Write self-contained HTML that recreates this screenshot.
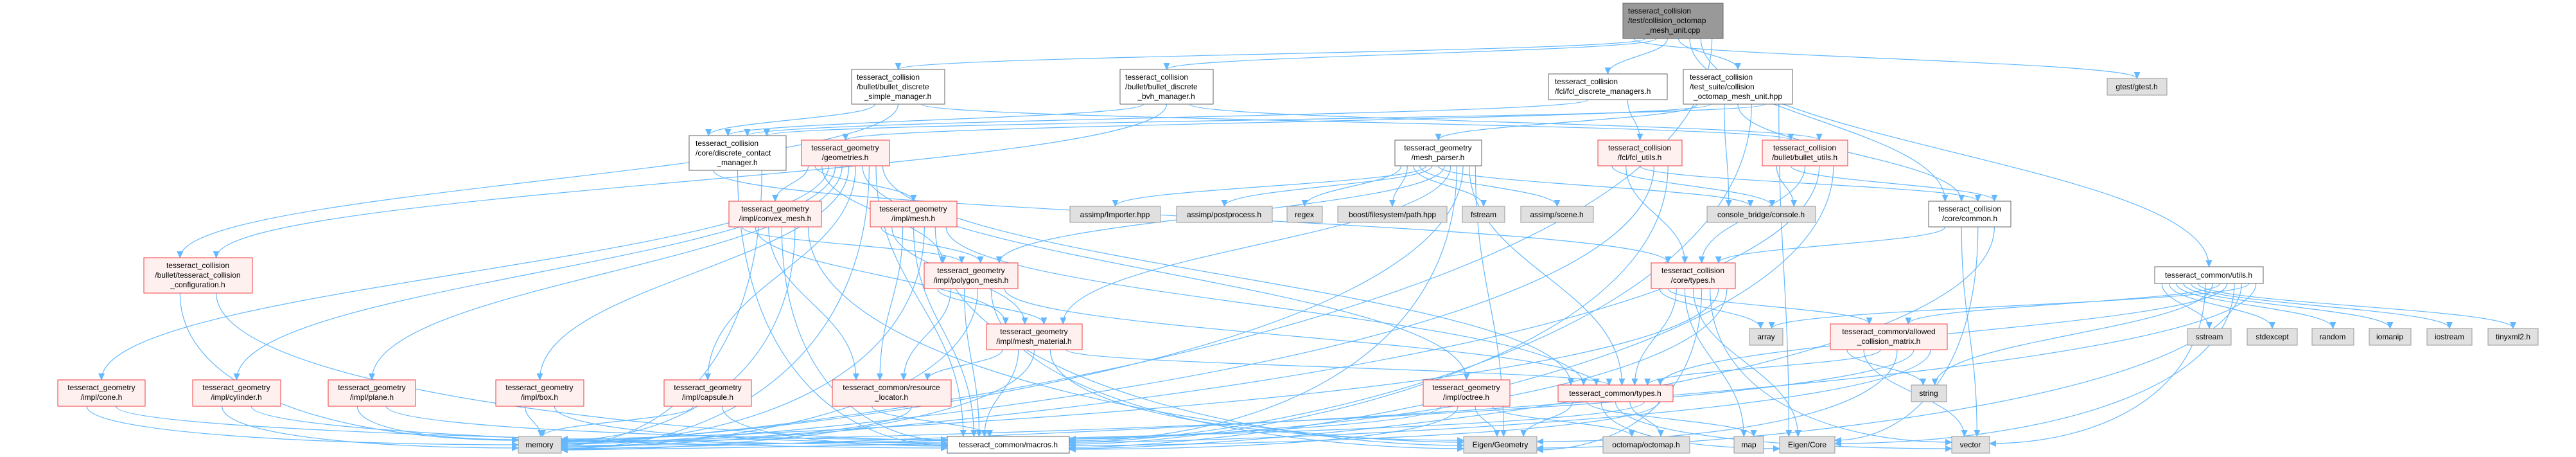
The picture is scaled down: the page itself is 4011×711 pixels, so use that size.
<!DOCTYPE html>
<html><head><meta charset="utf-8"><style>
html,body{margin:0;padding:0;background:#fff;}
svg{display:block;}
text{font-family:"Liberation Sans",Arial,sans-serif;font-size:12px;fill:#000;}
</style></head><body>
<svg id="g" width="4011" height="711" viewBox="0 0 4011 711" xmlns="http://www.w3.org/2000/svg">
<defs><marker id="ah" markerWidth="11" markerHeight="10" refX="10" refY="5" orient="auto" markerUnits="userSpaceOnUse"><path d="M0,0 L11,5 L0,10 z" fill="#63b8ff"/></marker></defs>
<g id="edges" fill="none" stroke="#63b8ff" stroke-width="1.2"></g>
<g id="nodes">
<rect x="2527" y="5" width="156" height="55" fill="#999" stroke="#666"/><text x="2535" y="21">tesseract_collision</text><text x="2535" y="36">/test/collision_octomap</text><text x="2605" y="51" text-anchor="middle">_mesh_unit.cpp</text>
<rect x="3281" y="122" width="93" height="26" fill="#e0e0e0" stroke="#999"/><text x="3327" y="139" text-anchor="middle">gtest/gtest.h</text>
<rect x="1326" y="108" width="145" height="54" fill="#fff" stroke="#666"/><text x="1334" y="124">tesseract_collision</text><text x="1334" y="139">/bullet/bullet_discrete</text><text x="1398" y="154" text-anchor="middle">_simple_manager.h</text>
<rect x="1744" y="108" width="145" height="54" fill="#fff" stroke="#666"/><text x="1752" y="124">tesseract_collision</text><text x="1752" y="139">/bullet/bullet_discrete</text><text x="1816" y="154" text-anchor="middle">_bvh_manager.h</text>
<rect x="2411" y="115" width="185" height="40" fill="#fff" stroke="#666"/><text x="2421" y="131">tesseract_collision</text><text x="2421" y="146">/fcl/fcl_discrete_managers.h</text>
<rect x="2621" y="108" width="170" height="54" fill="#fff" stroke="#666"/><text x="2631" y="124">tesseract_collision</text><text x="2631" y="139">/test_suite/collision</text><text x="2706" y="154" text-anchor="middle">_octomap_mesh_unit.hpp</text>
<rect x="1073" y="211" width="151" height="54" fill="#fff" stroke="#666"/><text x="1083" y="227">tesseract_collision</text><text x="1083" y="242">/core/discrete_contact</text><text x="1148" y="257" text-anchor="middle">_manager.h</text>
<rect x="1248" y="218" width="137" height="40" fill="#fff0f0" stroke="#f03c3c"/><text x="1316" y="234" text-anchor="middle">tesseract_geometry</text><text x="1316" y="249" text-anchor="middle">/geometries.h</text>
<rect x="2172" y="218" width="135" height="40" fill="#fff" stroke="#666"/><text x="2239" y="234" text-anchor="middle">tesseract_geometry</text><text x="2239" y="249" text-anchor="middle">/mesh_parser.h</text>
<rect x="2488" y="218" width="131" height="40" fill="#fff0f0" stroke="#f03c3c"/><text x="2553" y="234" text-anchor="middle">tesseract_collision</text><text x="2553" y="249" text-anchor="middle">/fcl/fcl_utils.h</text>
<rect x="2744" y="218" width="133" height="40" fill="#fff0f0" stroke="#f03c3c"/><text x="2810" y="234" text-anchor="middle">tesseract_collision</text><text x="2810" y="249" text-anchor="middle">/bullet/bullet_utils.h</text>
<rect x="1135" y="313" width="144" height="40" fill="#fff0f0" stroke="#f03c3c"/><text x="1207" y="329" text-anchor="middle">tesseract_geometry</text><text x="1207" y="344" text-anchor="middle">/impl/convex_mesh.h</text>
<rect x="1355" y="313" width="135" height="40" fill="#fff0f0" stroke="#f03c3c"/><text x="1422" y="329" text-anchor="middle">tesseract_geometry</text><text x="1422" y="344" text-anchor="middle">/impl/mesh.h</text>
<rect x="3003" y="313" width="128" height="40" fill="#fff" stroke="#666"/><text x="3067" y="329" text-anchor="middle">tesseract_collision</text><text x="3067" y="344" text-anchor="middle">/core/common.h</text>
<rect x="1666" y="321" width="141" height="25" fill="#e0e0e0" stroke="#999"/><text x="1736" y="338" text-anchor="middle">assimp/Importer.hpp</text>
<rect x="1832" y="321" width="149" height="25" fill="#e0e0e0" stroke="#999"/><text x="1906" y="338" text-anchor="middle">assimp/postprocess.h</text>
<rect x="2004" y="321" width="55" height="25" fill="#e0e0e0" stroke="#999"/><text x="2031" y="338" text-anchor="middle">regex</text>
<rect x="2083" y="321" width="170" height="25" fill="#e0e0e0" stroke="#999"/><text x="2168" y="338" text-anchor="middle">boost/filesystem/path.hpp</text>
<rect x="2277" y="321" width="66" height="25" fill="#e0e0e0" stroke="#999"/><text x="2310" y="338" text-anchor="middle">fstream</text>
<rect x="2368" y="321" width="113" height="25" fill="#e0e0e0" stroke="#999"/><text x="2424" y="338" text-anchor="middle">assimp/scene.h</text>
<rect x="2658" y="321" width="169" height="25" fill="#e0e0e0" stroke="#999"/><text x="2742" y="338" text-anchor="middle">console_bridge/console.h</text>
<rect x="224" y="401" width="169" height="55" fill="#fff0f0" stroke="#f03c3c"/><text x="308" y="417" text-anchor="middle">tesseract_collision</text><text x="308" y="432" text-anchor="middle">/bullet/tesseract_collision</text><text x="308" y="447" text-anchor="middle">_configuration.h</text>
<rect x="1439" y="409" width="146" height="40" fill="#fff0f0" stroke="#f03c3c"/><text x="1512" y="425" text-anchor="middle">tesseract_geometry</text><text x="1512" y="440" text-anchor="middle">/impl/polygon_mesh.h</text>
<rect x="2571" y="409" width="131" height="40" fill="#fff0f0" stroke="#f03c3c"/><text x="2636" y="425" text-anchor="middle">tesseract_collision</text><text x="2636" y="440" text-anchor="middle">/core/types.h</text>
<rect x="3355" y="415" width="169" height="26" fill="#fff" stroke="#666"/><text x="3439" y="432" text-anchor="middle">tesseract_common/utils.h</text>
<rect x="1536" y="504" width="149" height="40" fill="#fff0f0" stroke="#f03c3c"/><text x="1610" y="520" text-anchor="middle">tesseract_geometry</text><text x="1610" y="535" text-anchor="middle">/impl/mesh_material.h</text>
<rect x="2850" y="504" width="182" height="40" fill="#fff0f0" stroke="#f03c3c"/><text x="2941" y="520" text-anchor="middle">tesseract_common/allowed</text><text x="2941" y="535" text-anchor="middle">_collision_matrix.h</text>
<rect x="2724" y="511" width="52" height="26" fill="#e0e0e0" stroke="#999"/><text x="2750" y="528" text-anchor="middle">array</text>
<rect x="3406" y="511" width="68" height="26" fill="#e0e0e0" stroke="#999"/><text x="3440" y="528" text-anchor="middle">sstream</text>
<rect x="3499" y="511" width="78" height="26" fill="#e0e0e0" stroke="#999"/><text x="3538" y="528" text-anchor="middle">stdexcept</text>
<rect x="3600" y="511" width="65" height="26" fill="#e0e0e0" stroke="#999"/><text x="3632" y="528" text-anchor="middle">random</text>
<rect x="3689" y="511" width="65" height="26" fill="#e0e0e0" stroke="#999"/><text x="3721" y="528" text-anchor="middle">iomanip</text>
<rect x="3779" y="511" width="70" height="26" fill="#e0e0e0" stroke="#999"/><text x="3814" y="528" text-anchor="middle">iostream</text>
<rect x="3874" y="511" width="78" height="26" fill="#e0e0e0" stroke="#999"/><text x="3913" y="528" text-anchor="middle">tinyxml2.h</text>
<rect x="90" y="591" width="136" height="41" fill="#fff0f0" stroke="#f03c3c"/><text x="158" y="607" text-anchor="middle">tesseract_geometry</text><text x="158" y="622" text-anchor="middle">/impl/cone.h</text>
<rect x="300" y="591" width="137" height="41" fill="#fff0f0" stroke="#f03c3c"/><text x="368" y="607" text-anchor="middle">tesseract_geometry</text><text x="368" y="622" text-anchor="middle">/impl/cylinder.h</text>
<rect x="511" y="591" width="136" height="41" fill="#fff0f0" stroke="#f03c3c"/><text x="579" y="607" text-anchor="middle">tesseract_geometry</text><text x="579" y="622" text-anchor="middle">/impl/plane.h</text>
<rect x="772" y="591" width="137" height="41" fill="#fff0f0" stroke="#f03c3c"/><text x="840" y="607" text-anchor="middle">tesseract_geometry</text><text x="840" y="622" text-anchor="middle">/impl/box.h</text>
<rect x="1034" y="591" width="136" height="41" fill="#fff0f0" stroke="#f03c3c"/><text x="1102" y="607" text-anchor="middle">tesseract_geometry</text><text x="1102" y="622" text-anchor="middle">/impl/capsule.h</text>
<rect x="1296" y="591" width="185" height="41" fill="#fff0f0" stroke="#f03c3c"/><text x="1388" y="607" text-anchor="middle">tesseract_common/resource</text><text x="1388" y="622" text-anchor="middle">_locator.h</text>
<rect x="2216" y="591" width="135" height="41" fill="#fff0f0" stroke="#f03c3c"/><text x="2283" y="607" text-anchor="middle">tesseract_geometry</text><text x="2283" y="622" text-anchor="middle">/impl/octree.h</text>
<rect x="2426" y="599" width="179" height="26" fill="#fff0f0" stroke="#f03c3c"/><text x="2515" y="616" text-anchor="middle">tesseract_common/types.h</text>
<rect x="2976" y="599" width="55" height="26" fill="#e0e0e0" stroke="#999"/><text x="3003" y="616" text-anchor="middle">string</text>
<rect x="807" y="679" width="67" height="26" fill="#e0e0e0" stroke="#999"/><text x="840" y="696" text-anchor="middle">memory</text>
<rect x="1475" y="679" width="190" height="26" fill="#fff" stroke="#666"/><text x="1570" y="696" text-anchor="middle">tesseract_common/macros.h</text>
<rect x="2279" y="679" width="114" height="26" fill="#e0e0e0" stroke="#999"/><text x="2336" y="696" text-anchor="middle">Eigen/Geometry</text>
<rect x="2496" y="679" width="135" height="26" fill="#e0e0e0" stroke="#999"/><text x="2563" y="696" text-anchor="middle">octomap/octomap.h</text>
<rect x="2700" y="679" width="46" height="26" fill="#e0e0e0" stroke="#999"/><text x="2723" y="696" text-anchor="middle">map</text>
<rect x="2771" y="679" width="86" height="26" fill="#e0e0e0" stroke="#999"/><text x="2814" y="696" text-anchor="middle">Eigen/Core</text>
<rect x="3039" y="679" width="59" height="26" fill="#e0e0e0" stroke="#999"/><text x="3068" y="696" text-anchor="middle">vector</text>
</g>
</svg>
<script>
var N={root:[2527,5,2683,60],gtest:[3281,122,3374,148],sm:[1326,108,1471,162],bvh:[1744,108,1889,162],fdm:[2411,115,2596,155],ts:[2621,108,2791,162],dcm:[1073,211,1224,265],geo:[1248,218,1385,258],mp:[2172,218,2307,258],fu:[2488,218,2619,258],bu:[2744,218,2877,258],cvx:[1135,313,1279,353],mesh:[1355,313,1490,353],com:[3003,313,3131,353],imp:[1666,321,1807,346],pp:[1832,321,1981,346],regex:[2004,321,2059,346],boost:[2083,321,2253,346],fst:[2277,321,2343,346],scene:[2368,321,2481,346],cb:[2658,321,2827,346],cfg:[224,401,393,456],poly:[1439,409,1585,449],ctypes:[2571,409,2702,449],utils:[3355,415,3524,441],mm:[1536,504,1685,544],acm:[2850,504,3032,544],array:[2724,511,2776,537],ss:[3406,511,3474,537],se:[3499,511,3577,537],rnd:[3600,511,3665,537],iom:[3689,511,3754,537],ios:[3779,511,3849,537],txml:[3874,511,3952,537],cone:[90,591,226,632],cyl:[300,591,437,632],plane:[511,591,647,632],box:[772,591,909,632],cap:[1034,591,1170,632],rl:[1296,591,1481,632],oct:[2216,591,2351,632],cty:[2426,599,2605,625],str:[2976,599,3031,625],mem:[807,679,874,705],mac:[1475,679,1665,705],eg:[2279,679,2393,705],om:[2496,679,2631,705],map:[2700,679,2746,705],ec:[2771,679,2857,705],vec:[3039,679,3098,705]};
var E=[["root","gtest"],["root","sm"],["root","bvh"],["root","fdm"],["root","ts"],["root","com"],["root","utils"],["root","mem"],
["sm","dcm"],["sm","cfg"],["sm","bu"],["bvh","dcm"],["bvh","cfg"],["bvh","bu"],["fdm","dcm"],["fdm","fu"],
["ts","mp"],["ts","geo"],["ts","cb"],["ts","com"],["ts","mac"],["ts","dcm"],["ts","ec"],
["dcm","ctypes"],["dcm","mac"],["dcm","mem"],
["geo","cvx"],["geo","mesh"],["geo","poly"],["geo","cone"],["geo","cyl"],["geo","plane"],["geo","box"],["geo","cap"],["geo","oct"],["geo","mem"],["geo","mac"],["geo","cty"],
["cvx","poly"],["cvx","mm"],["cvx","rl"],["cvx","mac"],["cvx","mem"],["cvx","eg"],
["mesh","poly"],["mesh","mm"],["mesh","rl"],["mesh","mac"],["mesh","mem"],["mesh","eg"],["mesh","cty"],
["poly","mm"],["poly","rl"],["poly","mac"],["poly","mem"],["poly","eg"],["poly","cty"],
["mm","rl"],["mm","mac"],["mm","mem"],["mm","eg"],["mm","cty"],["rl","mac"],["rl","mem"],
["cone","mem"],["cone","mac"],["cyl","mem"],["cyl","mac"],["plane","mem"],["plane","mac"],["box","mem"],["box","mac"],["cap","mem"],["cap","mac"],
["oct","mem"],["oct","mac"],["oct","eg"],["oct","om"],
["mp","regex"],["mp","boost"],["mp","fst"],["mp","scene"],["mp","imp"],["mp","pp"],["mp","cb"],["mp","poly"],["mp","mm"],["mp","mac"],["mp","mem"],["mp","cty"],["mp","eg"],
["fu","cb"],["fu","ctypes"],["fu","com"],["fu","mem"],["fu","mac"],
["bu","cb"],["bu","com"],["bu","ctypes"],["bu","mem"],["bu","mac"],
["ctypes","array"],["ctypes","acm"],["ctypes","cty"],["ctypes","map"],["ctypes","ec"],["ctypes","eg"],["ctypes","vec"],["ctypes","mem"],["ctypes","mac"],
["acm","str"],["acm","vec"],["acm","cty"],["acm","eg"],["acm","mem"],["acm","mac"],
["cty","eg"],["cty","map"],["cty","ec"],["cty","vec"],["cty","om"],["cty","mem"],["cty","mac"],
["com","ctypes"],["com","vec"],["com","ec"],["com","mac"],
["utils","ss"],["utils","se"],["utils","rnd"],["utils","iom"],["utils","ios"],["utils","txml"],["utils","vec"],["utils","str"],["utils","acm"],["utils","cty"],["utils","ec"],["utils","eg"],["utils","array"],["utils","mem"],
["cfg","mem"],["cfg","mac"]];
var outC={},inC={},outI={},inI={};
E.forEach(function(e){outC[e[0]]=(outC[e[0]]||0)+1;inC[e[1]]=(inC[e[1]]||0)+1;});
var g=document.getElementById("edges"),s="";
E.forEach(function(e){
 var a=N[e[0]],b=N[e[1]];
 var oi=outI[e[0]]=(outI[e[0]]||0)+1, ii=inI[e[1]]=(inI[e[1]]||0)+1;
 var sx=a[0]+(a[2]-a[0])*oi/(outC[e[0]]+1), sy=a[3];
 var tcx=(b[0]+b[2])/2, d;
 if(b[1]>=670 && Math.abs(sx-tcx)>260){
  var left = sx<tcx, tx=left?b[0]:b[2], ty=b[1]+4+((ii*5)%18);
  var dy=ty-sy;
  d="M"+sx+","+sy+" C"+sx+","+(sy+dy*0.7)+" "+(tx+(left?-1:1)*Math.min(300,Math.abs(tx-sx)*0.5))+","+ty+" "+tx+","+ty;
 } else if(b[1]<a[3]-5){
  var tx2=left2=(sx<tcx)?b[0]:b[2]; var ty2=(b[1]+b[3])/2;
  d="M"+sx+","+sy+" C"+sx+","+(sy+60)+" "+(tx2+(sx<tcx?-80:80))+","+ty2+" "+tx2+","+ty2;
 } else {
  var tx=b[0]+(b[2]-b[0])*ii/(inC[e[1]]+1), ty=b[1], dy=ty-sy;
  d="M"+sx+","+sy+" C"+sx+","+(sy+dy*0.45)+" "+tx+","+(ty-dy*0.45)+" "+tx+","+ty;
 }
 s+='<path d="'+d+'" marker-end="url(#ah)"/>';
});
g.innerHTML=s;
</script>
</body></html>
